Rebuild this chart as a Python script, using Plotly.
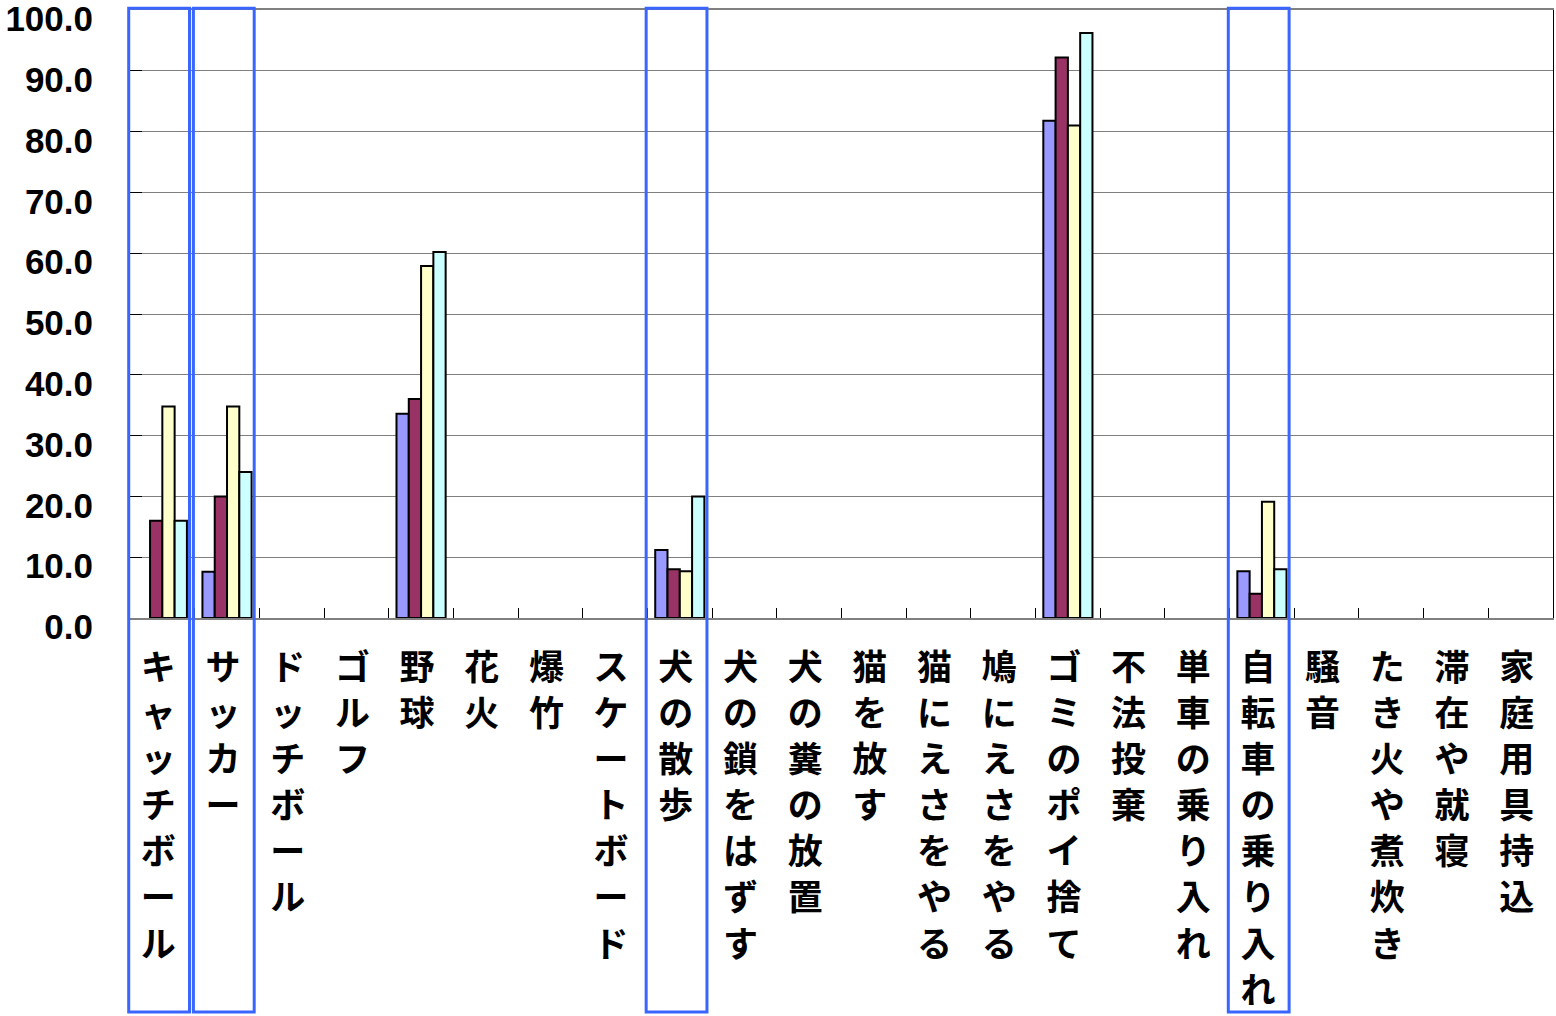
import plotly.graph_objects as go

categories = ['キャッチボール', 'サッカー', 'ドッチボール', 'ゴルフ', '野球', '花火', '爆竹',
              'スケートボード', '犬の散歩', '犬の鎖をはずす', '犬の糞の放置', '猫を放す',
              '猫にえさをやる', '鳩にえさをやる', 'ゴミのポイ捨て', '不法投棄', '単車の乗り入れ',
              '自転車の乗り入れ', '騒音', 'たき火や煮炊き', '滞在や就寝', '家庭用具持込']

# None = no answer / 0 (no bar drawn)
series1 = [None, 7.6, None, None, 33.6, None, None, None, 11.2, None, None, None, None, None, 81.8, None, None, 7.7, None, None, None, None]
series2 = [16.0, 20.0, None, None, 36.0, None, None, None, 8.0, None, None, None, None, None, 92.2, None, None, 4.0, None, None, None, None]
series3 = [34.8, 34.8, None, None, 57.9, None, None, None, 7.7, None, None, None, None, None, 81.0, None, None, 19.1, None, None, None, None]
series4 = [16.0, 24.0, None, None, 60.2, None, None, None, 20.0, None, None, None, None, None, 96.2, None, None, 8.0, None, None, None, None]

series_names = ['系列1', '系列2', '系列3', '系列4']
colors = ['#9999FF', '#993366', '#FFFFCC', '#CCFFFF']

highlighted = ['キャッチボール', 'サッカー', '犬の散歩', '自転車の乗り入れ']

def stacked(label):
    return '<br>'.join('<span style="font-size:35px">' + ch + '</span>' for ch in label)

fig = go.Figure()
for name, vals, col in zip(series_names, [series1, series2, series3, series4], colors):
    fig.add_trace(go.Bar(x=categories, y=vals, name=name,
                         marker=dict(color=col, line=dict(color='black', width=2))))

n = len(categories)
for cat in highlighted:
    i = categories.index(cat)
    fig.add_shape(type='rect', xref='paper', yref='paper',
                  x0=(i - 0.02) / n, x1=(i + 0.92) / n, y0=-0.648, y1=1.003,
                  line=dict(color='#3a66ff', width=3), layer='above')

fig.update_xaxes(tickvals=categories, ticktext=[stacked(c) for c in categories],
                 tickangle=0, tickson='boundaries', ticks='inside', ticklen=10,
                 tickcolor='black', tickwidth=1,
                 tickfont=dict(family='Noto Sans CJK JP', size=35.5, color='black', weight='bold'),
                 showline=True, linecolor='#808080', linewidth=2, mirror=True,
                 range=[-0.5, n - 0.5], ticklabelstandoff=17, ticklabelshift=-4,
                 automargin=False)
fig.update_yaxes(range=[0, 100], tickvals=list(range(0, 101, 10)), tickformat='.1f',
                 ticks='inside', ticklen=12, tickcolor='black',
                 tickfont=dict(family='Liberation Sans, Arial', size=35, color='black', weight='bold'),
                 showgrid=True, gridcolor='#808080', gridwidth=1,
                 showline=True, linecolor='black', linewidth=1, mirror=True,
                 ticklabelstandoff=29, ticklabelshift=9, ticklabeloverflow='allow',
                 automargin=False)
fig.update_layout(width=1556, height=1016, barmode='group', bargap=0.24, bargroupgap=0,
                  showlegend=False, plot_bgcolor='white', paper_bgcolor='white',
                  margin=dict(l=130, r=3, t=10, b=398))
fig.write_html('out.html', config={'displayModeBar': False},
               post_script="document.body.style.margin='0';")
